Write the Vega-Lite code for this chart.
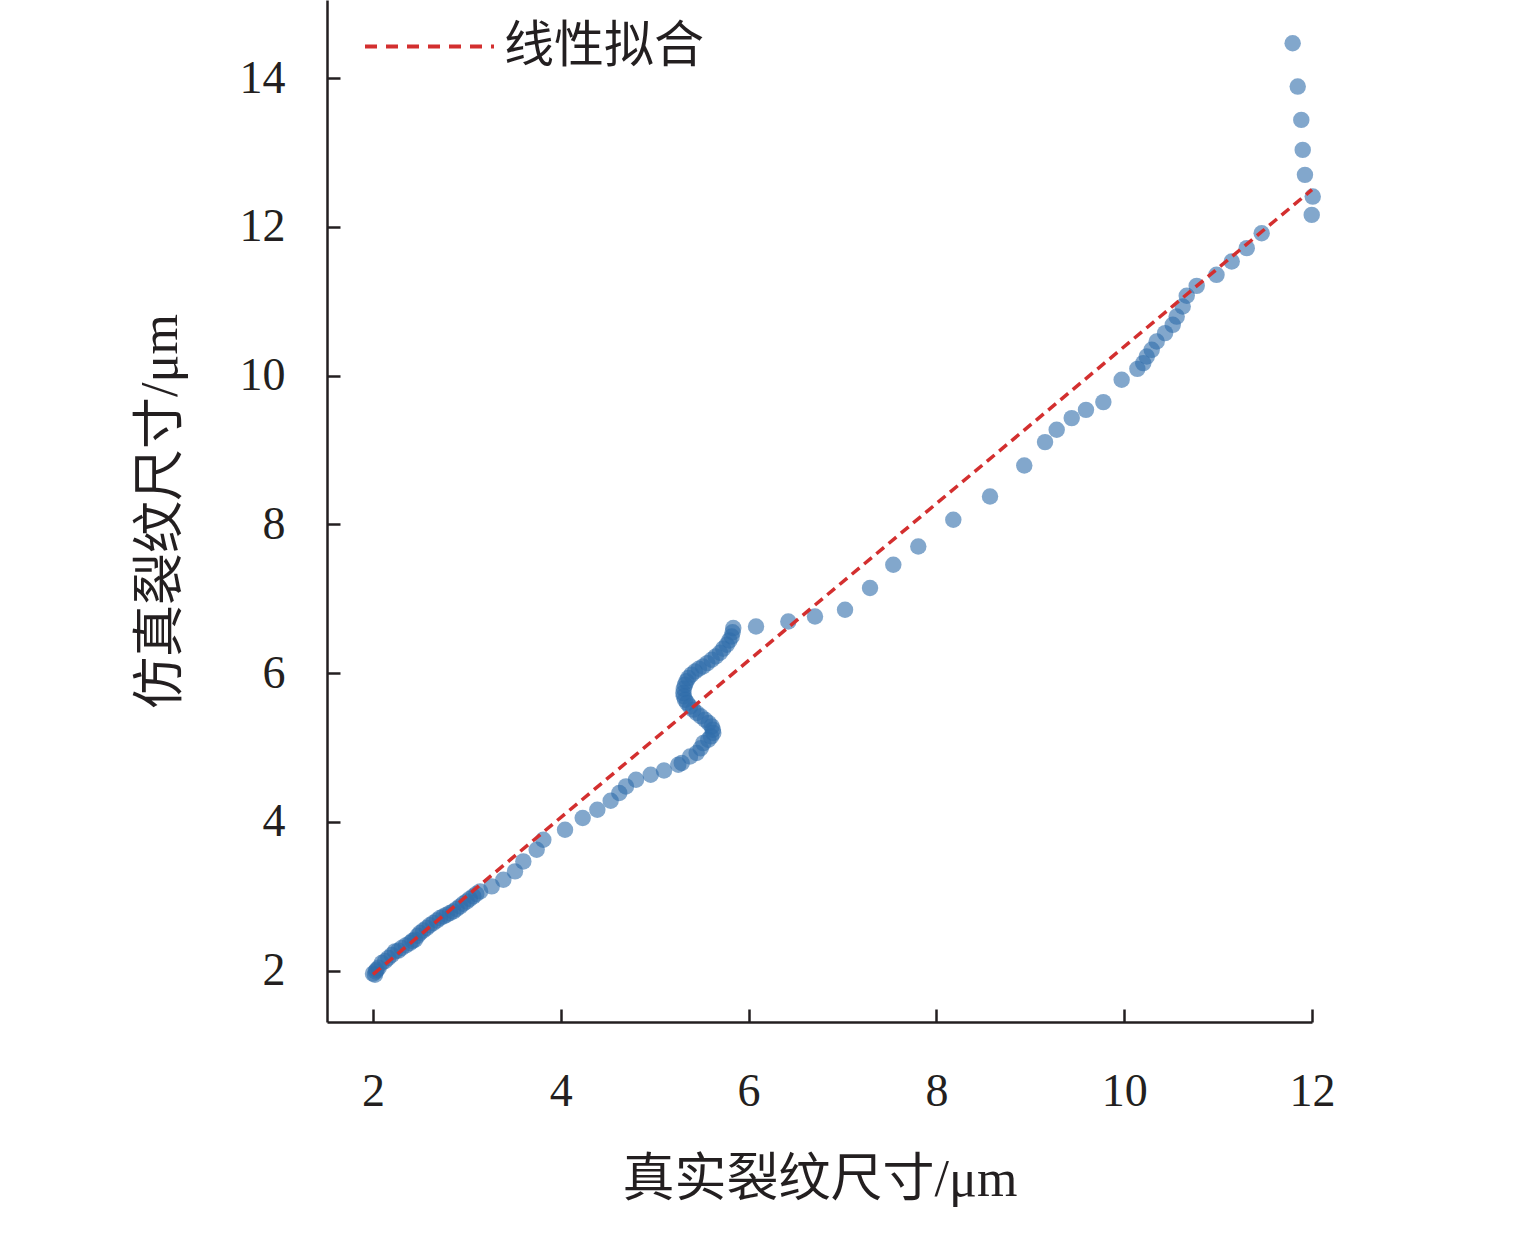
{
  "$schema": "https://vega.github.io/schema/vega-lite/v6.json",
  "autosize": "none",
  "padding": {"left": 327, "top": 0, "right": 223, "bottom": 223},
  "width": 985,
  "height": 1022,
  "background": "white",
  "config": {
    "view": {"stroke": null},
    "font": "Liberation Serif, Noto Sans CJK SC",
    "axis": {
      "grid": false,
      "domainColor": "#231f20",
      "domainWidth": 2.5,
      "tickColor": "#231f20",
      "tickWidth": 2.5,
      "tickSize": -13,
      "format": "d",
      "labelFlush": false,
      "labelFont": "Liberation Serif",
      "labelFontSize": 46,
      "labelColor": "#231f20",
      "titleFont": "Liberation Serif, Noto Sans CJK SC",
      "titleFontSize": 52,
      "titleFontWeight": "normal",
      "titleColor": "#231f20"
    }
  },
  "layer": [
    {
      "data": {
        "values": [
          {"x": 2.0, "y": 1.96}, {"x": 2.021, "y": 1.946}, {"x": 2.03, "y": 1.99},
          {"x": 2.039, "y": 2.013}, {"x": 2.06, "y": 2.04}, {"x": 2.093, "y": 2.103},
          {"x": 2.13, "y": 2.13}, {"x": 2.163, "y": 2.171}, {"x": 2.2, "y": 2.21},
          {"x": 2.234, "y": 2.259}, {"x": 2.27, "y": 2.27}, {"x": 2.306, "y": 2.305},
          {"x": 2.35, "y": 2.34}, {"x": 2.394, "y": 2.372}, {"x": 2.42, "y": 2.4},
          {"x": 2.447, "y": 2.417}, {"x": 2.475, "y": 2.47}, {"x": 2.501, "y": 2.507},
          {"x": 2.535, "y": 2.54}, {"x": 2.572, "y": 2.574}, {"x": 2.605, "y": 2.61},
          {"x": 2.642, "y": 2.641}, {"x": 2.68, "y": 2.675}, {"x": 2.714, "y": 2.708},
          {"x": 2.75, "y": 2.73}, {"x": 2.785, "y": 2.753}, {"x": 2.82, "y": 2.775},
          {"x": 2.855, "y": 2.797}, {"x": 2.89, "y": 2.83}, {"x": 2.927, "y": 2.864},
          {"x": 2.96, "y": 2.9}, {"x": 2.998, "y": 2.931}, {"x": 3.03, "y": 2.965},
          {"x": 3.068, "y": 2.999}, {"x": 3.1, "y": 3.03}, {"x": 3.14, "y": 3.066},
          {"x": 3.264, "y": 3.133}, {"x": 3.388, "y": 3.223}, {"x": 3.512, "y": 3.335},
          {"x": 3.601, "y": 3.469}, {"x": 3.743, "y": 3.626}, {"x": 3.814, "y": 3.761},
          {"x": 4.045, "y": 3.895}, {"x": 4.233, "y": 4.052}, {"x": 4.389, "y": 4.164},
          {"x": 4.531, "y": 4.285}, {"x": 4.623, "y": 4.388}, {"x": 4.694, "y": 4.477},
          {"x": 4.801, "y": 4.567}, {"x": 4.957, "y": 4.634}, {"x": 5.099, "y": 4.692},
          {"x": 5.251, "y": 4.769}, {"x": 5.288, "y": 4.792}, {"x": 5.376, "y": 4.88},
          {"x": 5.447, "y": 4.926}, {"x": 5.49, "y": 4.99}, {"x": 5.518, "y": 5.06},
          {"x": 5.571, "y": 5.105}, {"x": 5.6, "y": 5.15}, {"x": 5.624, "y": 5.195},
          {"x": 5.62, "y": 5.24}, {"x": 5.607, "y": 5.284}, {"x": 5.575, "y": 5.33},
          {"x": 5.536, "y": 5.374}, {"x": 5.49, "y": 5.42}, {"x": 5.447, "y": 5.464},
          {"x": 5.41, "y": 5.51}, {"x": 5.376, "y": 5.552}, {"x": 5.345, "y": 5.6},
          {"x": 5.323, "y": 5.642}, {"x": 5.31, "y": 5.69}, {"x": 5.305, "y": 5.733},
          {"x": 5.31, "y": 5.79}, {"x": 5.323, "y": 5.844}, {"x": 5.338, "y": 5.89},
          {"x": 5.358, "y": 5.934}, {"x": 5.39, "y": 5.98}, {"x": 5.429, "y": 6.023},
          {"x": 5.47, "y": 6.06}, {"x": 5.514, "y": 6.09}, {"x": 5.56, "y": 6.135},
          {"x": 5.607, "y": 6.18}, {"x": 5.65, "y": 6.225}, {"x": 5.695, "y": 6.274},
          {"x": 5.73, "y": 6.33}, {"x": 5.767, "y": 6.382}, {"x": 5.795, "y": 6.44},
          {"x": 5.82, "y": 6.493}, {"x": 5.83, "y": 6.55}, {"x": 5.837, "y": 6.606},
          {"x": 6.079, "y": 6.628}, {"x": 6.423, "y": 6.695}, {"x": 6.707, "y": 6.762},
          {"x": 7.027, "y": 6.852}, {"x": 7.293, "y": 7.144}, {"x": 7.541, "y": 7.457},
          {"x": 7.807, "y": 7.703}, {"x": 8.18, "y": 8.062}, {"x": 8.571, "y": 8.375},
          {"x": 8.936, "y": 8.792}, {"x": 9.157, "y": 9.106}, {"x": 9.281, "y": 9.272},
          {"x": 9.441, "y": 9.429}, {"x": 9.593, "y": 9.54}, {"x": 9.778, "y": 9.644},
          {"x": 9.973, "y": 9.944}, {"x": 10.14, "y": 10.091}, {"x": 10.203, "y": 10.168},
          {"x": 10.24, "y": 10.257}, {"x": 10.293, "y": 10.347}, {"x": 10.346, "y": 10.458},
          {"x": 10.435, "y": 10.571}, {"x": 10.517, "y": 10.683}, {"x": 10.559, "y": 10.794},
          {"x": 10.623, "y": 10.929}, {"x": 10.666, "y": 11.073}, {"x": 10.772, "y": 11.207},
          {"x": 10.983, "y": 11.355}, {"x": 11.145, "y": 11.534}, {"x": 11.305, "y": 11.714},
          {"x": 11.464, "y": 11.915}, {"x": 11.997, "y": 12.161}, {"x": 12.008, "y": 12.407},
          {"x": 11.925, "y": 12.699}, {"x": 11.901, "y": 13.035}, {"x": 11.886, "y": 13.438},
          {"x": 11.848, "y": 13.886}, {"x": 11.794, "y": 14.469}
        ]
      },
      "mark": {"type": "circle", "size": 270, "color": "#2f6daa", "opacity": 0.6},
      "encoding": {
        "x": {
          "field": "x",
          "type": "quantitative",
          "scale": {"domain": [1.51, 12.0], "nice": false, "zero": false},
          "axis": {
            "values": [2, 4, 6, 8, 10, 12],
            "labelPadding": 60,
            "title": "真实裂纹尺寸/μm",
            "titlePadding": 40
          }
        },
        "y": {
          "field": "y",
          "type": "quantitative",
          "scale": {"domain": [1.31, 15.05], "nice": false, "zero": false},
          "axis": {
            "values": [2, 4, 6, 8, 10, 12, 14],
            "labelPadding": 55,
            "title": "仿真裂纹尺寸/μm",
            "titlePadding": 52
          }
        }
      }
    },
    {
      "data": {
        "values": [
          {"x": 2.0, "y": 1.95, "series": "线性拟合"},
          {"x": 12.0, "y": 12.5, "series": "线性拟合"}
        ]
      },
      "mark": {"type": "line", "strokeWidth": 3.5, "strokeDash": [10, 6]},
      "encoding": {
        "x": {"field": "x", "type": "quantitative"},
        "y": {"field": "y", "type": "quantitative"},
        "color": {
          "field": "series",
          "type": "nominal",
          "scale": {"domain": ["线性拟合"], "range": ["#d32f2f"]},
          "legend": {
            "title": null,
            "orient": "none",
            "legendX": 36,
            "legendY": -20,
            "symbolType": "stroke",
            "symbolSize": 16641,
            "symbolStrokeWidth": 4,
            "symbolDash": [12, 9],
            "labelFont": "Noto Sans CJK SC",
            "labelFontSize": 50,
            "labelLimit": 400,
            "labelColor": "#231f20",
            "labelOffset": 8
          }
        }
      }
    }
  ]
}
